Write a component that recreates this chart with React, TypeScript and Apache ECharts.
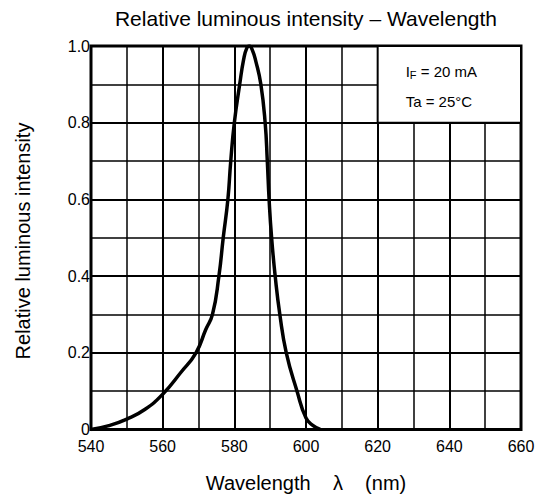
import React, { useEffect, useRef } from "react";
import * as echarts from "echarts";

const wavelength: number[] = [540, 545, 550, 555, 560, 565, 569.3, 572, 573.9, 575.7, 576.9, 578.2, 579, 580, 581.5, 582.6, 583.5, 584.2, 585, 586, 587.4, 588.6, 589.2, 589.7, 590.4, 591.4, 592.7, 594.5, 597.5, 600, 602, 604];
const intensity: number[] = [0, 0.01, 0.027, 0.052, 0.092, 0.148, 0.2, 0.26, 0.3, 0.4, 0.5, 0.6, 0.7, 0.8, 0.9, 0.965, 0.995, 1.0, 0.99, 0.96, 0.9, 0.8, 0.7, 0.6, 0.5, 0.4, 0.3, 0.2, 0.1, 0.03, 0.01, 0];

const xTicks = { min: 540, max: 660, step: 20 };
const yTicks = { min: 0, max: 1, step: 0.2 };

const titleText = "Relative luminous intensity – Wavelength";
const xName = "Wavelength    λ    (nm)";
const yName = "Relative luminous intensity";
const condBox = { x1: 620, x2: 660, y1: 0.8, y2: 1.0 };
const condLines = ["I", "F", " = 20 mA", "Ta = 25°C"];

const FONT = "'Liberation Sans', Arial, Helvetica, sans-serif";

export default function App() {
  const ref = useRef<HTMLDivElement>(null);
  useEffect(() => {
    if (!ref.current) return;
    const chart = echarts.init(ref.current, null, { renderer: "svg" });
    const data = wavelength.map((w, i) => [w, intensity[i]]);
    const left = 91, right = 19, top = 46, bottom = 69.5;
    chart.setOption({
      animation: false,
      backgroundColor: "#fff",
      grid: {
        left, right, top, bottom,
        show: true,
        borderColor: "#000",
        borderWidth: 3,
        backgroundColor: "transparent",
      },
      xAxis: {
        type: "value",
        min: xTicks.min,
        max: xTicks.max,
        interval: xTicks.step,
        axisLine: { show: false },
        axisTick: { show: false },
        axisLabel: { color: "#000", fontSize: 16, fontFamily: FONT, margin: 9 },
        splitLine: { show: true, lineStyle: { color: "#000", width: 2 } },
        minorTick: { show: false, splitNumber: 2 },
        minorSplitLine: { show: true, lineStyle: { color: "#000", width: 1.5 } },
      },
      yAxis: {
        type: "value",
        min: yTicks.min,
        max: yTicks.max,
        interval: yTicks.step,
        axisLine: { show: false },
        axisTick: { show: false },
        axisLabel: {
          color: "#000",
          fontSize: 16,
          fontFamily: FONT,
          margin: 1,
          formatter: (v: number) => (v === 0 ? "0" : v.toFixed(1)),
        },
        splitLine: { show: true, lineStyle: { color: "#000", width: 2 } },
        minorTick: { show: false, splitNumber: 2 },
        minorSplitLine: { show: true, lineStyle: { color: "#000", width: 1.5 } },
      },
      series: [
        {
          type: "line",
          data,
          symbol: "none",
          smooth: 0.5,
          lineStyle: { color: "#000", width: 3.5, join: "round" },
          z: 5,
          markArea: {
            silent: true,
            itemStyle: { color: "#fff", borderColor: "#000", borderWidth: 2, opacity: 1 },
            label: {
              show: true,
              position: [29, 11],
              formatter: `{a|${condLines[0]}}{s|${condLines[1]}}{a|${condLines[2]}}\n{a|${condLines[3]}}`,
              rich: {
                a: { fontSize: 15, fontFamily: FONT, color: "#000", lineHeight: 30 },
                s: { fontSize: 11, fontFamily: FONT, color: "#000", lineHeight: 30, padding: [7, 0, 0, 0] },
              },
            },
            data: [[{ coord: [condBox.x1, condBox.y2] }, { coord: [condBox.x2, condBox.y1] }]],
          },
        },
      ],
      graphic: [
        {
          type: "text",
          x: 306,
          y: 18,
          style: { text: titleText, font: `21px ${FONT}`, fill: "#000", align: "center", verticalAlign: "middle" },
        },
        {
          type: "text",
          x: 306,
          y: 483,
          style: { text: xName, font: `20px ${FONT}`, fill: "#000", align: "center", verticalAlign: "middle" },
        },
        {
          type: "text",
          x: 23,
          y: 241,
          rotation: Math.PI / 2,
          style: { text: yName, font: `20px ${FONT}`, fill: "#000", align: "center", verticalAlign: "middle" },
        },
      ],
    });
    return () => chart.dispose();
  }, []);
  return (
    <div
      ref={ref}
      style={{ position: "absolute", left: 0, top: 0, width: 540, height: 499, background: "#fff" }}
    />
  );
}
